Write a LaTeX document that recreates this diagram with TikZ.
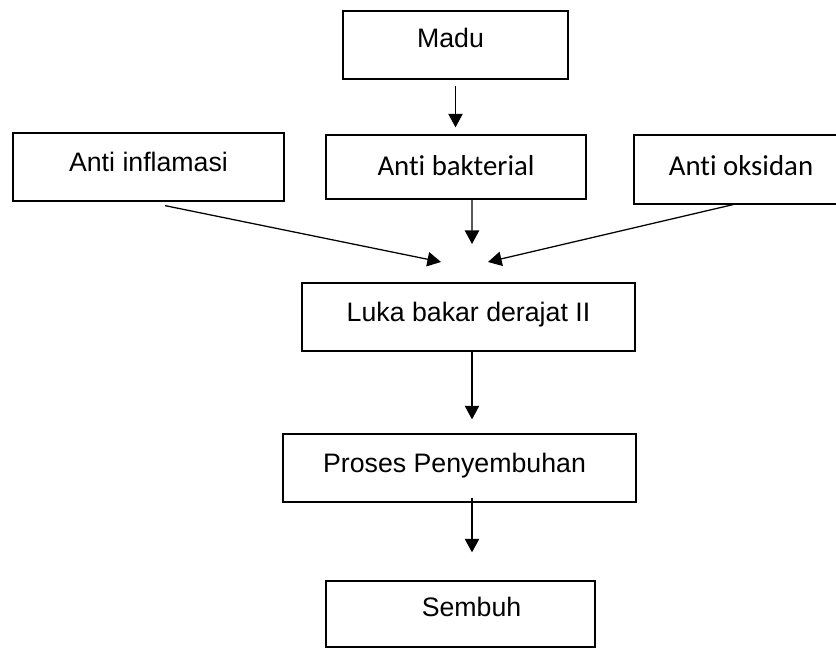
\documentclass[tikz,border=0pt]{standalone}
\usepackage{fontspec}
\setmainfont{Liberation Sans}
\newfontfamily\calibri[Ligatures=NoCommon]{Carlito}
\usetikzlibrary{arrows.meta}

\tikzset{
	kotak/.style={draw, line width=0.9pt, inner sep=0pt, font=\fontsize{19}{23}\selectfont, text height=0.5cm, text depth=0.27cm},
	kotakc/.style={kotak, font=\calibri\fontsize{20.5}{25}\selectfont, text height=0.55cm, text depth=0.1cm},
	panah/.style={line width=0.9pt, -{Triangle[length=3.4mm,width=3.6mm]}}
}

\begin{document}
\begin{tikzpicture}
				\useasboundingbox (0,0) rectangle (20.9,16.2);
				
				% Kotak-kotak
				\node[kotak, minimum width=5.625cm, minimum height=1.7cm, text depth=0.35cm] (madu) at (11.3875,15.075) {Madu\hspace*{0.25cm}};
				\node[kotak, minimum width=6.775cm, minimum height=1.7cm] (inflamasi) at (3.7125,12.025) {Anti inflamasi};
				\node[kotakc, minimum width=6.5cm, minimum height=1.6cm] (bakteri) at (11.4,12.025) {Anti bakterial};
				\node[kotakc, minimum width=5.35cm, minimum height=1.725cm, text depth=0.26cm] (oksidan) at (18.525,11.9625) {Anti oksidan};
				\node[kotak, minimum width=8.325cm, minimum height=1.7cm] (luka) at (11.7125,8.275) {Luka bakar derajat II};
				\node[kotak, minimum width=8.825cm, minimum height=1.7cm] (proses) at (11.4875,4.5) {Proses Penyembuhan\hspace*{0.25cm}};
				\node[kotak, minimum width=6.725cm, minimum height=1.65cm, text depth=0.35cm] (sembuh) at (11.5125,0.85) {\hspace*{0.55cm}Sembuh};
				
				% Ujung panah yang bebas
				\coordinate (ujungKiri) at (11.025,9.65);
				\coordinate (ujungTengah) at (11.8,10.1);
				\coordinate (ujungKanan) at (12.2,9.65);
				
				% Panah
				\draw[panah, shorten <=0.15cm, shorten >=0.175cm] (madu.south) -- (madu.south |- bakteri.north);
				\draw[panah] ([xshift=0.4125cm, yshift=-0.1cm]inflamasi.south) -- (ujungKiri);
				\draw[panah] ([xshift=0.4cm]bakteri.south) -- (ujungTengah);
				\draw[panah] ([xshift=-0.2cm]oksidan.south) -- (ujungKanan);
				\draw[panah, shorten >=0.35cm] ([xshift=0.0875cm]luka.south) -- ([xshift=0.0875cm]luka.south |- proses.north);
				\draw[panah, shorten <=-0.125cm, shorten >=0.7cm] ([xshift=0.3125cm]proses.south) -- ([xshift=0.3125cm]proses.south |- sembuh.north);
			\end{tikzpicture}
\end{document}
